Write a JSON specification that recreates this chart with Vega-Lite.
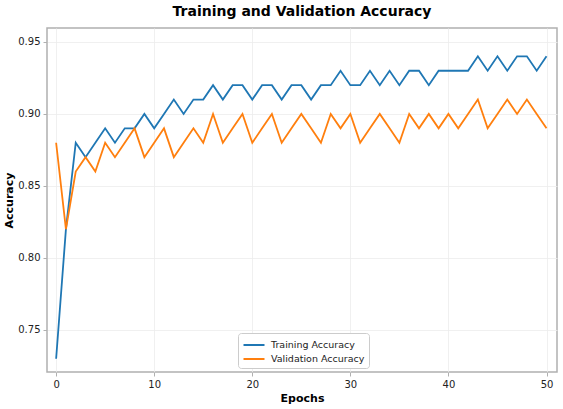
{
  "$schema": "https://vega.github.io/schema/vega-lite/v6.json",
  "autosize": {"type": "none"},
  "padding": {"left": 47, "top": 28, "right": 6, "bottom": 37},
  "width": 510,
  "height": 344,
  "background": "white",
  "title": {
    "text": "Training and Validation Accuracy",
    "font": "DejaVu Sans",
    "fontSize": 14,
    "fontWeight": "bold",
    "color": "black",
    "anchor": "middle",
    "offset": 9
  },
  "config": {
    "view": {"stroke": "#b0b0b0", "strokeWidth": 1.5},
    "axis": {
      "labelFont": "DejaVu Sans",
      "labelFontSize": 10,
      "labelColor": "#222",
      "titleFont": "DejaVu Sans",
      "titleFontSize": 11,
      "titleFontWeight": "bold",
      "titleColor": "black",
      "domain": false,
      "tickColor": "#b0b0b0",
      "tickSize": 4,
      "gridColor": "#ececec",
      "gridWidth": 0.8
    },
    "legend": {
      "labelFont": "DejaVu Sans",
      "labelFontSize": 9.5,
      "labelColor": "#222"
    }
  },
  "data": {
    "values": [
      {"epoch": 0, "series": "Training Accuracy", "acc": 0.73},
      {"epoch": 1, "series": "Training Accuracy", "acc": 0.82},
      {"epoch": 2, "series": "Training Accuracy", "acc": 0.88},
      {"epoch": 3, "series": "Training Accuracy", "acc": 0.87},
      {"epoch": 4, "series": "Training Accuracy", "acc": 0.88},
      {"epoch": 5, "series": "Training Accuracy", "acc": 0.89},
      {"epoch": 6, "series": "Training Accuracy", "acc": 0.88},
      {"epoch": 7, "series": "Training Accuracy", "acc": 0.89},
      {"epoch": 8, "series": "Training Accuracy", "acc": 0.89},
      {"epoch": 9, "series": "Training Accuracy", "acc": 0.90},
      {"epoch": 10, "series": "Training Accuracy", "acc": 0.89},
      {"epoch": 11, "series": "Training Accuracy", "acc": 0.90},
      {"epoch": 12, "series": "Training Accuracy", "acc": 0.91},
      {"epoch": 13, "series": "Training Accuracy", "acc": 0.90},
      {"epoch": 14, "series": "Training Accuracy", "acc": 0.91},
      {"epoch": 15, "series": "Training Accuracy", "acc": 0.91},
      {"epoch": 16, "series": "Training Accuracy", "acc": 0.92},
      {"epoch": 17, "series": "Training Accuracy", "acc": 0.91},
      {"epoch": 18, "series": "Training Accuracy", "acc": 0.92},
      {"epoch": 19, "series": "Training Accuracy", "acc": 0.92},
      {"epoch": 20, "series": "Training Accuracy", "acc": 0.91},
      {"epoch": 21, "series": "Training Accuracy", "acc": 0.92},
      {"epoch": 22, "series": "Training Accuracy", "acc": 0.92},
      {"epoch": 23, "series": "Training Accuracy", "acc": 0.91},
      {"epoch": 24, "series": "Training Accuracy", "acc": 0.92},
      {"epoch": 25, "series": "Training Accuracy", "acc": 0.92},
      {"epoch": 26, "series": "Training Accuracy", "acc": 0.91},
      {"epoch": 27, "series": "Training Accuracy", "acc": 0.92},
      {"epoch": 28, "series": "Training Accuracy", "acc": 0.92},
      {"epoch": 29, "series": "Training Accuracy", "acc": 0.93},
      {"epoch": 30, "series": "Training Accuracy", "acc": 0.92},
      {"epoch": 31, "series": "Training Accuracy", "acc": 0.92},
      {"epoch": 32, "series": "Training Accuracy", "acc": 0.93},
      {"epoch": 33, "series": "Training Accuracy", "acc": 0.92},
      {"epoch": 34, "series": "Training Accuracy", "acc": 0.93},
      {"epoch": 35, "series": "Training Accuracy", "acc": 0.92},
      {"epoch": 36, "series": "Training Accuracy", "acc": 0.93},
      {"epoch": 37, "series": "Training Accuracy", "acc": 0.93},
      {"epoch": 38, "series": "Training Accuracy", "acc": 0.92},
      {"epoch": 39, "series": "Training Accuracy", "acc": 0.93},
      {"epoch": 40, "series": "Training Accuracy", "acc": 0.93},
      {"epoch": 41, "series": "Training Accuracy", "acc": 0.93},
      {"epoch": 42, "series": "Training Accuracy", "acc": 0.93},
      {"epoch": 43, "series": "Training Accuracy", "acc": 0.94},
      {"epoch": 44, "series": "Training Accuracy", "acc": 0.93},
      {"epoch": 45, "series": "Training Accuracy", "acc": 0.94},
      {"epoch": 46, "series": "Training Accuracy", "acc": 0.93},
      {"epoch": 47, "series": "Training Accuracy", "acc": 0.94},
      {"epoch": 48, "series": "Training Accuracy", "acc": 0.94},
      {"epoch": 49, "series": "Training Accuracy", "acc": 0.93},
      {"epoch": 50, "series": "Training Accuracy", "acc": 0.94},
      {"epoch": 0, "series": "Validation Accuracy", "acc": 0.88},
      {"epoch": 1, "series": "Validation Accuracy", "acc": 0.82},
      {"epoch": 2, "series": "Validation Accuracy", "acc": 0.86},
      {"epoch": 3, "series": "Validation Accuracy", "acc": 0.87},
      {"epoch": 4, "series": "Validation Accuracy", "acc": 0.86},
      {"epoch": 5, "series": "Validation Accuracy", "acc": 0.88},
      {"epoch": 6, "series": "Validation Accuracy", "acc": 0.87},
      {"epoch": 7, "series": "Validation Accuracy", "acc": 0.88},
      {"epoch": 8, "series": "Validation Accuracy", "acc": 0.89},
      {"epoch": 9, "series": "Validation Accuracy", "acc": 0.87},
      {"epoch": 10, "series": "Validation Accuracy", "acc": 0.88},
      {"epoch": 11, "series": "Validation Accuracy", "acc": 0.89},
      {"epoch": 12, "series": "Validation Accuracy", "acc": 0.87},
      {"epoch": 13, "series": "Validation Accuracy", "acc": 0.88},
      {"epoch": 14, "series": "Validation Accuracy", "acc": 0.89},
      {"epoch": 15, "series": "Validation Accuracy", "acc": 0.88},
      {"epoch": 16, "series": "Validation Accuracy", "acc": 0.90},
      {"epoch": 17, "series": "Validation Accuracy", "acc": 0.88},
      {"epoch": 18, "series": "Validation Accuracy", "acc": 0.89},
      {"epoch": 19, "series": "Validation Accuracy", "acc": 0.90},
      {"epoch": 20, "series": "Validation Accuracy", "acc": 0.88},
      {"epoch": 21, "series": "Validation Accuracy", "acc": 0.89},
      {"epoch": 22, "series": "Validation Accuracy", "acc": 0.90},
      {"epoch": 23, "series": "Validation Accuracy", "acc": 0.88},
      {"epoch": 24, "series": "Validation Accuracy", "acc": 0.89},
      {"epoch": 25, "series": "Validation Accuracy", "acc": 0.90},
      {"epoch": 26, "series": "Validation Accuracy", "acc": 0.89},
      {"epoch": 27, "series": "Validation Accuracy", "acc": 0.88},
      {"epoch": 28, "series": "Validation Accuracy", "acc": 0.90},
      {"epoch": 29, "series": "Validation Accuracy", "acc": 0.89},
      {"epoch": 30, "series": "Validation Accuracy", "acc": 0.90},
      {"epoch": 31, "series": "Validation Accuracy", "acc": 0.88},
      {"epoch": 32, "series": "Validation Accuracy", "acc": 0.89},
      {"epoch": 33, "series": "Validation Accuracy", "acc": 0.90},
      {"epoch": 34, "series": "Validation Accuracy", "acc": 0.89},
      {"epoch": 35, "series": "Validation Accuracy", "acc": 0.88},
      {"epoch": 36, "series": "Validation Accuracy", "acc": 0.90},
      {"epoch": 37, "series": "Validation Accuracy", "acc": 0.89},
      {"epoch": 38, "series": "Validation Accuracy", "acc": 0.90},
      {"epoch": 39, "series": "Validation Accuracy", "acc": 0.89},
      {"epoch": 40, "series": "Validation Accuracy", "acc": 0.90},
      {"epoch": 41, "series": "Validation Accuracy", "acc": 0.89},
      {"epoch": 42, "series": "Validation Accuracy", "acc": 0.90},
      {"epoch": 43, "series": "Validation Accuracy", "acc": 0.91},
      {"epoch": 44, "series": "Validation Accuracy", "acc": 0.89},
      {"epoch": 45, "series": "Validation Accuracy", "acc": 0.90},
      {"epoch": 46, "series": "Validation Accuracy", "acc": 0.91},
      {"epoch": 47, "series": "Validation Accuracy", "acc": 0.90},
      {"epoch": 48, "series": "Validation Accuracy", "acc": 0.91},
      {"epoch": 49, "series": "Validation Accuracy", "acc": 0.90},
      {"epoch": 50, "series": "Validation Accuracy", "acc": 0.89}
    ]
  },
  "mark": {"type": "line", "strokeWidth": 1.8},
  "encoding": {
    "x": {
      "field": "epoch",
      "type": "quantitative",
      "title": "Epochs",
      "scale": {"domain": [-0.93, 51.07], "nice": false, "zero": false},
      "axis": {"values": [0, 10, 20, 30, 40, 50], "titlePadding": 3, "labelPadding": 3}
    },
    "y": {
      "field": "acc",
      "type": "quantitative",
      "title": "Accuracy",
      "scale": {"domain": [0.7208, 0.9597], "nice": false, "zero": false},
      "axis": {"values": [0.75, 0.8, 0.85, 0.9, 0.95], "format": ".2f", "titlePadding": 3, "labelPadding": 3}
    },
    "color": {
      "field": "series",
      "type": "nominal",
      "scale": {
        "domain": ["Training Accuracy", "Validation Accuracy"],
        "range": ["#1f77b4", "#ff7f0e"]
      },
      "legend": {
        "title": null,
        "orient": "none",
        "legendX": 191,
        "legendY": 305,
        "symbolType": "M-1.5,0L1.5,0",
        "symbolSize": 196,
        "symbolStrokeWidth": 2,
        "symbolFillColor": "transparent",
        "symbolOffset": 4,
        "rowPadding": 1,
        "padding": 4,
        "strokeColor": "#cccccc",
        "fillColor": "white",
        "cornerRadius": 3,
        "labelOffset": 9
      }
    }
  }
}
